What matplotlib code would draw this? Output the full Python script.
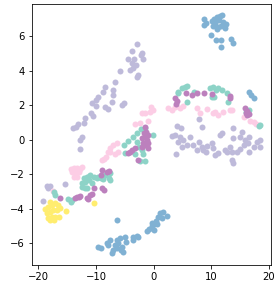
import matplotlib
matplotlib.use("Agg")
import matplotlib.pyplot as plt

# ---- data ----
lav_x = [-2.8, -3.8, -2.05, -4.4, -3.4, -1.8, -3.8, -3.0, -4.0, -3.5, -2.65, -5.9, -6.7, -8.4, -8.7,
         -9.6, -10.0, -10.7, -10.0, -7.1, -7.0, -7.25, -8.4, -7.85, -5.5, -5.1, -10.9, -10.45, -11.9,
         -12.1, -13.45, -13.05, -13.9, -12.5, -12.8, -12.7, -2.9, -2.2,
         -18.5, -17.9, -18.3, -15.3, -19.2,
         7.95, 8.47, 4.03, 4.77, 3.73, 4.6, 5.17, 4.3, 5.76, 4.9, 3.9, 3.16, 6.34, 6.9, 7.95, 8.37, 7.5,
         9.24, 10.1, 10.4, 10.7, 11.5, 11.85, 11.25, 12.4, 13.3, 13.6, 13.85, 13.75, 15.3, 15.0, 15.9,
         16.45, 15.7, 15.0, 16.6, 17.9, 17.45, 13.6, 13.8, 9.2, 14.5, 16.5, 18.5, 18.5, 12.75, 8.6]
lav_y = [5.57, 5.18, 5.02, 4.7, 4.7, 4.7, 4.44, 4.35, 4.06, 4.15, 3.77, 4.0, 3.38, 3.09, 2.8,
         2.51, 2.32, 2.13, 1.99, 2.9, 2.6, 2.22, 1.93, 1.8, 2.03, 2.13, 1.55, 1.41, 1.29,
         0.97, 0.77, 0.91, 0.68, 0.19, 0.0, -0.55, 3.67, 4.9,
         -2.65, -2.65, -2.8, -2.57, -3.54,
         1.2, 0.74, 0.83, 0.71, 0.29, 0.19, 0.0, -0.1, -0.29, -0.39, -0.83, 0.23, 0.19, -0.29, -0.1, -0.39, -0.58,
         -0.33, -0.19, -0.48, -0.87, 0.29, 0.39, -0.77, -0.58, -0.39, -0.68, 0.1, 0.68, 0.48, 0.19, 0.0,
         -0.19, -0.29, -0.52, 0.19, -0.1, -0.39, -1.16, -1.35, -0.68, -0.68, -0.68, 0.0, -0.39, -0.68, -0.58]

pnk_x = [-14.3, -13.85, -13.3, -12.4, -14.15, -13.6, -13.0, -13.85, -13.3, -12.8, -17.5,
         -8.65, -8.25, -7.5, -6.7, -6.1, -6.4, -7.0, -7.55, -7.95, -9.0,
         -2.05, -1.5, -0.6, -0.03, -0.45, -3.2, -2.35, -0.9,
         2.6, 3.2, 3.75, 4.6, 5.17, 7.5, 9.24, 10.4, 11.25, 12.0, 13.3, 13.6, 15.7, 16.75, 17.45,
         17.8, 18.3, 8.1, 10.7]
pnk_y = [-1.68, -1.6, -1.64, -1.55, -1.87, -1.93, -1.84, -2.13, -2.13, -1.7, -2.95,
         -1.1, -0.97, -0.68, -0.81, -0.68, -0.19, -0.29, -0.48, -0.68, -1.16,
         1.55, 1.58, 1.64, 1.74, 1.9, 0.93, 0.97, 1.12,
         1.84, 1.75, 1.93, 1.84, 1.99, 1.84, 1.78, 1.55, 1.45, 1.64, 1.74, 1.74, 1.35, 1.1, 1.06,
         0.91, 0.87, 1.55, 1.6]

tea_x = [4.3, 4.9, 5.47, 5.8, 4.2, 5.76, 7.0, 9.8, 10.4, 10.85, 11.25, 11.85, 12.7, 13.0, 10.1, 10.45,
         16.05, 16.5, 18.5, 18.3,
         -2.17, -1.5, -0.03, -2.9, -3.5, -4.4, -5.1, -2.9, -2.6, -4.95, -3.2, -1.8, -2.35, -1.5, -2.05,
         -9.6, -8.7, -7.55, -12.1, -11.55, -11.25, -11.85, -12.4, -11.85, -10.97, -10.4, -9.8, -10.7,
         -9.2, -8.37, -7.8, -17.05, -17.3, -14.4, -14.15, -14.8, -12.5, -11.3, -11.6, -7.55]
tea_y = [2.8, 3.0, 3.09, 3.13, 2.7, 2.22, 2.8, 3.0, 3.09, 2.9, 3.0, 2.9, 2.7, 2.22, 2.51, 2.51,
         1.64, 1.74, 0.87, 0.81,
         0.62, 0.68, 0.29, 0.39, 0.19, -0.04, -0.29, -0.1, -0.39, -0.73, -0.81, -0.81, -1.2, -1.2, -0.58,
         -2.13, -2.28, -2.32, -2.22, -2.13, -2.32, -2.45, -2.7, -2.77, -2.03, -2.13, -2.18, -2.5,
         -2.22, -2.03, -2.22, -3.19, -3.0, -3.61, -3.48, -3.44, -2.5, -2.13, -2.8, -1.93]

pur_x = [-2.05, -1.5, -0.9, -1.2, -1.8, -1.5, -1.0, -0.9, -2.05, -3.2, -3.8, -4.4, -4.0, -2.65, -1.5,
         -1.3, -1.7,
         -9.0, -8.1, -9.1, -9.0, -7.8, -10.4, -8.65, -13.6, -13.0, -12.75, -11.55, -11.3, -10.7, -16.2,
         -11.0, -13.3,
         3.73, 4.03, 3.96, 5.64, 6.63, 7.5, 8.77, 10.1, 13.2, 13.2, 16.2, 16.3, 16.6, 15.95, 16.0]
pur_y = [0.1, 0.19, 0.29, 0.0, -0.15, -0.29, -0.19, -0.48, -0.39, -0.48, -0.58, -0.77, -0.7, -1.16, 0.77,
         0.45, 0.4,
         -1.74, -1.84, -2.03, -2.8, -1.8, -2.8, -2.9, -3.38, -3.28, -3.25, -3.38, -3.44, -3.15, -3.34,
         -3.19, -3.3,
         2.41, 2.26, 2.09, 2.7, 2.6, 2.7, 2.7, 2.65, 2.57, 2.45, 1.68, 1.45, 1.49, 1.84, 1.55]

blu_x = [8.8, 8.8, 9.1, 10.1, 10.5, 11.0, 11.5, 11.9, 11.4, 10.7, 12.1, 11.8, 12.4, 11.25, 10.4, 12.6,
         11.0, 10.0, 10.85, 11.8, 11.8, 13.4, 13.8,
         16.6, 17.0, 17.5,
         -6.3, -9.6, -9.2, -8.1, -7.25, -7.0, -6.7, -6.4, -6.1, -5.8, -5.5, -5.25, -5.7, -4.95, -4.8,
         -3.5, -3.6, -2.9, -2.65, -1.1, -0.7, -0.3, -0.3, 0.1, 0.45, 0.85, 1.1, 1.7, 2.3, 1.4, 0.65,
         0.0, -7.55, -7.85, -6.4]
blu_y = [7.0, 6.67, 6.8, 6.88, 7.0, 7.1, 7.2, 7.25, 6.97, 6.76, 6.86, 6.6, 6.5, 6.57, 6.63, 6.7,
         6.43, 6.1, 5.8, 5.8, 5.4, 5.85, 5.65,
         2.8, 2.62, 2.45,
         -4.64, -6.22, -6.28, -5.95, -6.57, -6.38, -6.1, -5.8, -5.95, -5.7, -6.2, -6.48, -6.38, -5.6, -5.9,
         -5.6, -5.8, -5.57, -5.6, -5.3, -5.18, -5.0, -4.8, -4.87, -4.68, -4.45, -4.25, -4.2, -4.4, -4.54, -4.9,
         -5.2, -5.8, -6.1, -6.28]

yel_x = [-18.0, -18.85, -18.3, -17.7, -17.1, -16.5, -18.55, -18.0, -17.4, -16.8, -16.2, -18.3, -17.7,
         -17.1, -18.0, -17.3, -16.35, -15.2, -10.3]
yel_y = [-3.57, -4.02, -3.86, -3.77, -3.67, -3.77, -4.25, -4.15, -4.06, -4.06, -3.96, -4.54, -4.45,
         -4.45, -4.64, -4.64, -4.48, -4.1, -3.63]

series = [
    (lav_x, lav_y, "#bebada"),
    (pnk_x, pnk_y, "#fccde5"),
    (tea_x, tea_y, "#8dd3c7"),
    (pur_x, pur_y, "#bc80bd"),
    (blu_x, blu_y, "#80b1d3"),
    (yel_x, yel_y, "#ffed6f"),
]

fig = plt.figure(figsize=(274 / 72, 299 / 72), dpi=72)
ax = fig.add_axes([32 / 274, 1 - 265 / 299, (271 - 32) / 274, (265 - 3.7) / 299])
for xs, ys, c in series:
    ax.scatter(xs, ys, s=36, color=c, linewidths=0)

ax.set_xlim(-21.1, 20.4)
ax.set_ylim(-7.25, 7.9)
ax.set_xticks([-20, -10, 0, 10, 20])
ax.set_yticks([-6, -4, -2, 0, 2, 4, 6])

fig.savefig("out.png", dpi=72)
